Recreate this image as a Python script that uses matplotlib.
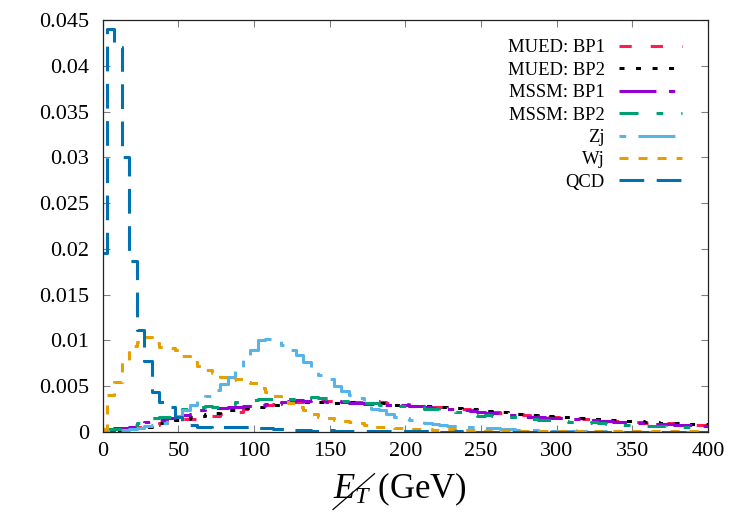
"""Missing-E_T distributions: MUED / MSSM benchmark points against Zj, Wj and QCD."""

import matplotlib
matplotlib.use("Agg")
import matplotlib.pyplot as plt
from matplotlib.lines import Line2D
import numpy as np

plt.rcParams["font.family"] = ["Liberation Serif", "DejaVu Serif"]
plt.rcParams["mathtext.fontset"] = "custom"
plt.rcParams["mathtext.rm"] = "Liberation Serif"
plt.rcParams["mathtext.it"] = "Liberation Serif:italic"
plt.rcParams["lines.scale_dashes"] = False

# bin centres (GeV), 5 GeV wide
met_bins = np.arange(0, 405, 5)

mued_bp1 = [
    0.0000, 0.0001, 0.0002, 0.0003, 0.0004, 0.0005, 0.0006, 0.0008, 0.0010, 0.0011,
    0.0012, 0.0014, 0.0014, 0.0016, 0.0018, 0.0018, 0.0020, 0.0021, 0.0022, 0.0025,
    0.0026, 0.0028, 0.0030, 0.0031, 0.0032, 0.0033, 0.0033, 0.0034, 0.0034, 0.0035,
    0.0034, 0.0034, 0.0033, 0.0033, 0.0033, 0.0032, 0.0034, 0.0033, 0.0032, 0.0031,
    0.0031, 0.0029, 0.0030, 0.0028, 0.0027, 0.0027, 0.0026, 0.0026, 0.0025, 0.0024,
    0.0023, 0.0022, 0.0022, 0.0021, 0.0021, 0.0020, 0.0019, 0.0018, 0.0017, 0.0017,
    0.0016, 0.0016, 0.0015, 0.0015, 0.0014, 0.0014, 0.0013, 0.0012, 0.0012, 0.0012,
    0.0011, 0.0011, 0.0010, 0.0010, 0.0010, 0.0010, 0.0009, 0.0009, 0.0008, 0.0008,
    0.0008,
]
mued_bp2 = [
    0.0000, 0.0001, 0.0002, 0.0003, 0.0004, 0.0005, 0.0006, 0.0009, 0.0010, 0.0011,
    0.0013, 0.0014, 0.0016, 0.0018, 0.0020, 0.0021, 0.0023, 0.0024, 0.0025, 0.0026,
    0.0026, 0.0027, 0.0029, 0.0030, 0.0031, 0.0032, 0.0033, 0.0033, 0.0034, 0.0033,
    0.0032, 0.0032, 0.0033, 0.0033, 0.0032, 0.0032, 0.0031, 0.0032, 0.0031, 0.0030,
    0.0030, 0.0029, 0.0029, 0.0028, 0.0028, 0.0027, 0.0026, 0.0026, 0.0025, 0.0025,
    0.0024, 0.0023, 0.0022, 0.0022, 0.0021, 0.0020, 0.0020, 0.0019, 0.0018, 0.0018,
    0.0017, 0.0016, 0.0016, 0.0015, 0.0015, 0.0014, 0.0014, 0.0013, 0.0013, 0.0012,
    0.0012, 0.0012, 0.0011, 0.0011, 0.0010, 0.0010, 0.0010, 0.0010, 0.0009, 0.0009,
    0.0009,
]
mssm_bp1 = [
    0.0001, 0.0002, 0.0004, 0.0004, 0.0006, 0.0008, 0.0011, 0.0012, 0.0013, 0.0015,
    0.0016, 0.0019, 0.0020, 0.0024, 0.0026, 0.0026, 0.0026, 0.0027, 0.0027, 0.0028,
    0.0029, 0.0030, 0.0031, 0.0031, 0.0033, 0.0034, 0.0035, 0.0034, 0.0035, 0.0034,
    0.0033, 0.0034, 0.0033, 0.0032, 0.0032, 0.0031, 0.0031, 0.0030, 0.0030, 0.0029,
    0.0030, 0.0028, 0.0028, 0.0027, 0.0026, 0.0026, 0.0025, 0.0024, 0.0024, 0.0023,
    0.0022, 0.0021, 0.0021, 0.0020, 0.0019, 0.0019, 0.0017, 0.0017, 0.0016, 0.0015,
    0.0015, 0.0015, 0.0014, 0.0014, 0.0013, 0.0013, 0.0012, 0.0012, 0.0011, 0.0011,
    0.0010, 0.0010, 0.0010, 0.0009, 0.0009, 0.0009, 0.0008, 0.0008, 0.0008, 0.0007,
    0.0007,
]
mssm_bp2 = [
    0.0002, 0.0003, 0.0003, 0.0006, 0.0008, 0.0010, 0.0012, 0.0015, 0.0017, 0.0017,
    0.0021, 0.0025, 0.0024, 0.0027, 0.0028, 0.0027, 0.0029, 0.0031, 0.0033, 0.0034,
    0.0035, 0.0036, 0.0036, 0.0035, 0.0035, 0.0036, 0.0035, 0.0036, 0.0038, 0.0037,
    0.0036, 0.0035, 0.0034, 0.0033, 0.0033, 0.0032, 0.0032, 0.0030, 0.0030, 0.0028,
    0.0028, 0.0027, 0.0027, 0.0025, 0.0025, 0.0024, 0.0023, 0.0022, 0.0021, 0.0019,
    0.0018, 0.0019, 0.0018, 0.0017, 0.0017, 0.0016, 0.0015, 0.0014, 0.0013, 0.0013,
    0.0012, 0.0012, 0.0011, 0.0011, 0.0010, 0.0011, 0.0010, 0.0009, 0.0009, 0.0008,
    0.0008, 0.0008, 0.0007, 0.0007, 0.0007, 0.0006, 0.0006, 0.0006, 0.0005, 0.0005,
    0.0005,
]
zj = [
    0.0001, 0.0001, 0.0002, 0.0002, 0.0003, 0.0004, 0.0007, 0.0008, 0.0010, 0.0013,
    0.0018, 0.0024, 0.0030, 0.0036, 0.0039, 0.0046, 0.0053, 0.0060, 0.0068, 0.0080,
    0.0090, 0.0100, 0.0102, 0.0101, 0.0095, 0.0090, 0.0084, 0.0077, 0.0067, 0.0062,
    0.0058, 0.0050, 0.0045, 0.0041, 0.0037, 0.0031, 0.0025, 0.0024, 0.0020, 0.0017,
    0.0015, 0.0013, 0.0012, 0.0010, 0.0009, 0.0008, 0.0007, 0.0007, 0.0006, 0.0005,
    0.0005, 0.0004, 0.0004, 0.0003, 0.0003, 0.0002, 0.0002, 0.0002, 0.0002, 0.0001,
    0.0001, 0.0001, 0.0001, 0.0001, 0.0001, 0.0001, 0.0001, 0.0000, 0.0000, 0.0000,
    0.0000, 0.0000, 0.0000, 0.0000, 0.0000, 0.0000, 0.0000, 0.0000, 0.0000, 0.0000,
    0.0000,
]
wj = [
    0.0003, 0.0040, 0.0055, 0.0078, 0.0094, 0.0098, 0.0104, 0.0097, 0.0093, 0.0092,
    0.0090, 0.0083, 0.0077, 0.0072, 0.0068, 0.0064, 0.0060, 0.0057, 0.0058, 0.0055,
    0.0054, 0.0048, 0.0044, 0.0039, 0.0035, 0.0032, 0.0027, 0.0024, 0.0020, 0.0017,
    0.0015, 0.0013, 0.0012, 0.0011, 0.0010, 0.0008, 0.0006, 0.0006, 0.0005, 0.0004,
    0.0004, 0.0003, 0.0003, 0.0003, 0.0002, 0.0002, 0.0003, 0.0002, 0.0002, 0.0002,
    0.0001, 0.0001, 0.0002, 0.0001, 0.0001, 0.0001, 0.0001, 0.0001, 0.0001, 0.0001,
    0.0001, 0.0001, 0.0002, 0.0001, 0.0001, 0.0001, 0.0001, 0.0001, 0.0001, 0.0001,
    0.0001, 0.0001, 0.0001, 0.0001, 0.0001, 0.0001, 0.0001, 0.0001, 0.0001, 0.0001,
    0.0001,
]
qcd = [
    0.0195, 0.0440, 0.0420, 0.0300, 0.0187, 0.0112, 0.0078, 0.0044, 0.0033, 0.0027,
    0.0016, 0.0009, 0.0008, 0.0005, 0.0005, 0.0004, 0.0005, 0.0005, 0.0006, 0.0006,
    0.0005, 0.0004, 0.0004, 0.0003, 0.0003, 0.0002, 0.0002, 0.0002, 0.0001, 0.0001,
    0.0002, 0.0001, 0.0001, 0.0001, 0.0001, 0.0001, 0.0001, 0.0001, 0.0001, 0.0001,
    0.0001, 0.0001, 0.0001, 0.0001, 0.0001, 0.0000, 0.0000, 0.0001, 0.0000, 0.0000,
    0.0000, 0.0000, 0.0000, 0.0000, 0.0000, 0.0000, 0.0000, 0.0000, 0.0000, 0.0000,
    0.0000, 0.0000, 0.0000, 0.0000, 0.0000, 0.0000, 0.0000, 0.0000, 0.0000, 0.0000,
    0.0000, 0.0000, 0.0000, 0.0000, 0.0000, 0.0000, 0.0000, 0.0000, 0.0000, 0.0000,
    0.0000,
]

labels = ["MUED: BP1", "MUED: BP2", "MSSM: BP1", "MSSM: BP2", "Zj", "Wj", "QCD"]
colors = ["#ff1a55", "#000000", "#9400d3", "#009e73", "#56b4e9", "#e69f00", "#0072b2"]
# gnuplot-ish dash types, in points
dashes = [
    (0, (8.8, 13.7)),
    (0, (3.6, 8.3)),
    (0, (26.6, 9.0, 4.5, 9.0)),
    (0, (13.7, 13.0, 4.8, 13.0)),
    (0, (4.8, 8.8, 26.6, 8.8)),
    (0, (6.5, 7.2)),
    (0, (17.8, 9.0)),
]

yticks = [0, 0.005, 0.01, 0.015, 0.02, 0.025, 0.03, 0.035, 0.04, 0.045]
ytick_labels = ["0", "0.005", "0.01", "0.015", "0.02", "0.025", "0.03", "0.035", "0.04", "0.045"]
xticks = [0, 50, 100, 150, 200, 250, 300, 350, 400]


def main() -> None:
    series = [mued_bp1, mued_bp2, mssm_bp1, mssm_bp2, zj, wj, qcd]

    fig = plt.figure(figsize=(7.5, 5.25), dpi=100)
    ax = fig.add_axes([0.137, 0.177, 0.807, 0.785])

    for vals, lab, col, ls in zip(series, labels, colors, dashes):
        ax.step(met_bins, vals, where="mid", color=col, lw=2.2,
                linestyle=ls, label=lab, solid_capstyle="butt")

    ax.set_xlim(0, 400)
    ax.set_ylim(0, 0.045)
    ax.set_xticks(xticks)
    ax.set_xticklabels([str(t) for t in xticks])
    ax.set_yticks(yticks)
    ax.set_yticklabels(ytick_labels)
    ax.tick_params(direction="in", length=5, width=0.8, color="#808080",
                   top=True, right=True, labelsize=16)
    ax.tick_params(axis="y", pad=10)
    ax.tick_params(axis="x", pad=7)
    for sp in ax.spines.values():
        sp.set_linewidth(0.9)
        sp.set_color("#222222")

    leg = ax.legend(loc="upper right", bbox_to_anchor=(0.957, 0.953),
                    frameon=False, markerfirst=False, fontsize=13.4,
                    handlelength=3.4, handletextpad=0.75, labelspacing=0.29,
                    borderaxespad=0.0, borderpad=0.0)
    for h in leg.get_lines():
        h.set_linewidth(2.2)

    # x label: E_T with a slash through it, then (GeV)
    lab = fig.text(0.444, 0.05, r"$E_T$ (GeV)", fontsize=25, ha="left", va="baseline")
    fig.canvas.draw()
    bb = lab.get_window_extent().transformed(fig.transFigure.inverted())
    w = bb.x1 - bb.x0
    fig.add_artist(Line2D([bb.x0, bb.x0 + 0.31 * w], [bb.y0 - 0.002, bb.y1 - 0.005],
                          transform=fig.transFigure, color="black", lw=0.9))

    fig.savefig("out.png", dpi=100)
    plt.close(fig)


if __name__ == "__main__":
    main()
